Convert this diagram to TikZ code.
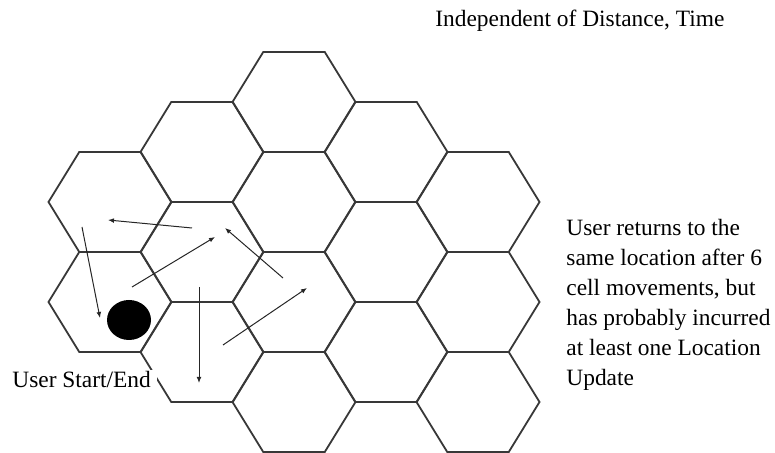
\documentclass[tikz,border=0pt]{standalone}
\usepackage{fontspec}
\setmainfont{Liberation Serif}
\usepackage{tikz}
\usetikzlibrary{arrows.meta}

\begin{document}
\begin{tikzpicture}[x=0.5pt,y=-0.5pt,
  cell/.style={draw=black!78,line width=0.9pt},
  move/.style={-{Latex[length=3pt,width=2.4pt]},draw=black!85,line width=0.5pt},
  note/.style={inner sep=0pt,font=\fontsize{11.7}{15}\selectfont,align=left}]
\useasboundingbox (0,0) rectangle (775,453);
\def\R{61.5};
\def\hh{50};
% cells of the network %
\foreach \cx/\cy in {110/202,110/302, 202/152,202/252,202/352, 294/102,294/202,294/302,294/402, 386/152,386/252,386/352, 478/202,478/302,478/402}
  \draw[cell] (\cx-\R,\cy) -- (\cx-\R/2,\cy-\hh) -- (\cx+\R/2,\cy-\hh) -- (\cx+\R,\cy) -- (\cx+\R/2,\cy+\hh) -- (\cx-\R/2,\cy+\hh) -- cycle;

% user position %
\coordinate (U) at (129,320);
\fill[black] (U) ellipse [x radius=11pt,y radius=10pt];

% cell movements %
\coordinate (a1) at (192,228); \coordinate (b1) at (108,220);
\coordinate (a2) at (82,227);  \coordinate (b2) at (100,318);
\coordinate (a3) at (132,287); \coordinate (b3) at (215,237);
\coordinate (a4) at (283,278); \coordinate (b4) at (225,228);
\coordinate (a5) at (199,287); \coordinate (b5) at (199,383);
\coordinate (a6) at (223,345); \coordinate (b6) at (307,288);
\draw[move] (a1) -- (b1);
\draw[move] (a2) -- (b2);
\draw[move] (a3) -- (b3);
\draw[move] (a4) -- (b4);
\draw[move] (a5) -- (b5);
\draw[move] (a6) -- (b6);

% labels %
\node[note,anchor=base west] (title) at (435,27) {Independent of Distance, Time};
\node[note,anchor=base west,fill=white,inner xsep=3pt,inner ysep=1pt] (start) at (6,388) {User Start/End};
\node[note,anchor=north west] (info) at (566,219) {User returns to the\\ same location after 6\\ cell movements, but\\ has probably incurred\\ at least one Location\\ Update};
\end{tikzpicture}
\end{document}
